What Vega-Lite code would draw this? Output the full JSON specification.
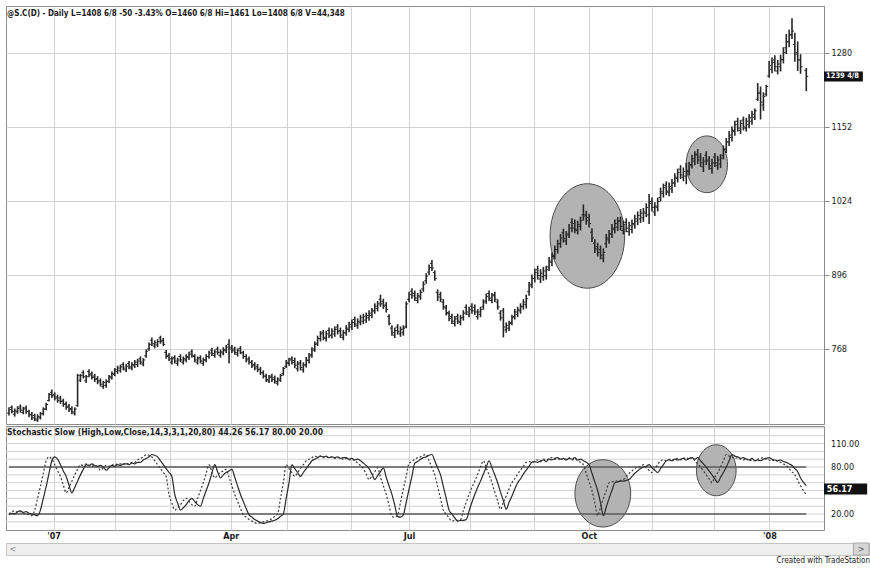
{
  "$schema": "https://vega.github.io/schema/vega-lite/v6.json",
  "background": "white",
  "padding": {"left": 5, "top": 5, "right": 0, "bottom": 0},
  "title": {"text": "Created with TradeStation", "orient": "bottom", "anchor": "end", "fontSize": 8, "fontWeight": "normal", "color": "#222", "offset": 1},
  "datasets": {
    "bars": [
      {"i":0,"o":657,"h":667,"l":653,"c":663,"d":19,"k":20},
      {"i":1,"o":667,"h":670,"l":657,"c":660,"d":21,"k":23},
      {"i":2,"o":655,"h":665,"l":651,"c":661,"d":20,"k":24},
      {"i":3,"o":659,"h":669,"l":656,"c":665,"d":23,"k":22},
      {"i":4,"o":668,"h":672,"l":658,"c":662,"d":24,"k":23},
      {"i":5,"o":658,"h":668,"l":655,"c":664,"d":22,"k":21},
      {"i":6,"o":666,"h":670,"l":656,"c":660,"d":23,"k":20},
      {"i":7,"o":660,"h":663,"l":650,"c":654,"d":21,"k":19},
      {"i":8,"o":655,"h":659,"l":645,"c":649,"d":20,"k":18},
      {"i":9,"o":653,"h":656,"l":643,"c":647,"d":19,"k":25},
      {"i":10,"o":645,"h":655,"l":642,"c":651,"d":18,"k":40},
      {"i":11,"o":649,"h":659,"l":646,"c":656,"d":25,"k":55},
      {"i":12,"o":656,"h":667,"l":653,"c":664,"d":40,"k":72},
      {"i":13,"o":664,"h":675,"l":662,"c":672,"d":55,"k":88},
      {"i":14,"o":679,"h":692,"l":677,"c":689,"d":72,"k":93},
      {"i":15,"o":693,"h":698,"l":683,"c":687,"d":88,"k":90},
      {"i":16,"o":689,"h":693,"l":679,"c":683,"d":93,"k":83},
      {"i":17,"o":685,"h":689,"l":675,"c":679,"d":90,"k":75},
      {"i":18,"o":683,"h":687,"l":673,"c":677,"d":83,"k":68},
      {"i":19,"o":678,"h":682,"l":668,"c":672,"d":75,"k":57},
      {"i":20,"o":673,"h":677,"l":663,"c":667,"d":68,"k":47},
      {"i":21,"o":669,"h":673,"l":659,"c":663,"d":57,"k":54},
      {"i":22,"o":665,"h":669,"l":655,"c":659,"d":47,"k":62},
      {"i":23,"o":657,"h":667,"l":653,"c":664,"d":54,"k":70},
      {"i":24,"o":670,"h":725,"l":668,"c":722,"d":62,"k":77},
      {"i":25,"o":714,"h":725,"l":711,"c":722,"d":70,"k":83},
      {"i":26,"o":727,"h":731,"l":717,"c":720,"d":77,"k":82},
      {"i":27,"o":713,"h":723,"l":709,"c":720,"d":83,"k":84},
      {"i":28,"o":729,"h":733,"l":719,"c":723,"d":82,"k":82},
      {"i":29,"o":725,"h":729,"l":715,"c":719,"d":84,"k":81},
      {"i":30,"o":721,"h":725,"l":711,"c":715,"d":82,"k":82},
      {"i":31,"o":717,"h":721,"l":707,"c":711,"d":81,"k":80},
      {"i":32,"o":713,"h":717,"l":703,"c":707,"d":82,"k":76},
      {"i":33,"o":703,"h":713,"l":699,"c":710,"d":80,"k":79},
      {"i":34,"o":705,"h":715,"l":701,"c":712,"d":76,"k":82},
      {"i":35,"o":712,"h":723,"l":709,"c":720,"d":79,"k":81},
      {"i":36,"o":718,"h":729,"l":715,"c":726,"d":82,"k":83},
      {"i":37,"o":724,"h":735,"l":721,"c":732,"d":81,"k":82},
      {"i":38,"o":729,"h":739,"l":725,"c":735,"d":83,"k":84},
      {"i":39,"o":731,"h":741,"l":727,"c":737,"d":82,"k":84},
      {"i":40,"o":741,"h":745,"l":731,"c":735,"d":84,"k":83},
      {"i":41,"o":732,"h":742,"l":728,"c":738,"d":84,"k":85},
      {"i":42,"o":743,"h":747,"l":733,"c":737,"d":83,"k":84},
      {"i":43,"o":735,"h":745,"l":731,"c":741,"d":85,"k":86},
      {"i":44,"o":739,"h":749,"l":735,"c":745,"d":84,"k":86},
      {"i":45,"o":741,"h":751,"l":737,"c":747,"d":86,"k":89},
      {"i":46,"o":751,"h":755,"l":741,"c":745,"d":86,"k":91},
      {"i":47,"o":742,"h":752,"l":738,"c":749,"d":89,"k":93},
      {"i":48,"o":756,"h":767,"l":753,"c":764,"d":91,"k":96},
      {"i":49,"o":768,"h":779,"l":765,"c":776,"d":93,"k":95},
      {"i":50,"o":783,"h":788,"l":773,"c":777,"d":96,"k":93},
      {"i":51,"o":773,"h":783,"l":769,"c":779,"d":95,"k":88},
      {"i":52,"o":775,"h":785,"l":771,"c":781,"d":93,"k":83},
      {"i":53,"o":787,"h":791,"l":777,"c":781,"d":88,"k":78},
      {"i":54,"o":783,"h":787,"l":773,"c":776,"d":83,"k":73},
      {"i":55,"o":762,"h":766,"l":751,"c":755,"d":78,"k":68},
      {"i":56,"o":757,"h":761,"l":747,"c":751,"d":73,"k":45},
      {"i":57,"o":745,"h":755,"l":741,"c":751,"d":68,"k":34},
      {"i":58,"o":753,"h":757,"l":743,"c":747,"d":45,"k":25},
      {"i":59,"o":743,"h":753,"l":739,"c":749,"d":34,"k":28},
      {"i":60,"o":755,"h":759,"l":745,"c":749,"d":25,"k":32},
      {"i":61,"o":745,"h":755,"l":741,"c":751,"d":28,"k":37},
      {"i":62,"o":749,"h":759,"l":745,"c":755,"d":32,"k":40},
      {"i":63,"o":753,"h":763,"l":749,"c":759,"d":37,"k":36},
      {"i":64,"o":763,"h":767,"l":753,"c":757,"d":40,"k":32},
      {"i":65,"o":755,"h":759,"l":745,"c":749,"d":36,"k":30},
      {"i":66,"o":745,"h":755,"l":741,"c":751,"d":32,"k":40},
      {"i":67,"o":753,"h":757,"l":743,"c":747,"d":30,"k":50},
      {"i":68,"o":743,"h":753,"l":739,"c":749,"d":40,"k":60},
      {"i":69,"o":749,"h":759,"l":745,"c":755,"d":50,"k":72},
      {"i":70,"o":755,"h":765,"l":751,"c":761,"d":60,"k":83},
      {"i":71,"o":766,"h":770,"l":756,"c":760,"d":72,"k":74},
      {"i":72,"o":757,"h":767,"l":753,"c":763,"d":83,"k":66},
      {"i":73,"o":768,"h":772,"l":758,"c":762,"d":74,"k":70},
      {"i":74,"o":757,"h":767,"l":753,"c":763,"d":66,"k":73},
      {"i":75,"o":761,"h":771,"l":757,"c":767,"d":70,"k":75},
      {"i":76,"o":765,"h":775,"l":761,"c":771,"d":73,"k":77},
      {"i":77,"o":776,"h":785,"l":743,"c":768,"d":75,"k":67},
      {"i":78,"o":771,"h":775,"l":761,"c":765,"d":77,"k":56},
      {"i":79,"o":768,"h":772,"l":758,"c":762,"d":67,"k":45},
      {"i":80,"o":759,"h":769,"l":755,"c":765,"d":56,"k":36},
      {"i":81,"o":769,"h":773,"l":759,"c":762,"d":45,"k":27},
      {"i":82,"o":761,"h":765,"l":751,"c":755,"d":36,"k":19},
      {"i":83,"o":755,"h":759,"l":745,"c":749,"d":27,"k":16},
      {"i":84,"o":751,"h":755,"l":741,"c":745,"d":19,"k":13},
      {"i":85,"o":745,"h":749,"l":735,"c":739,"d":16,"k":11},
      {"i":86,"o":741,"h":745,"l":731,"c":735,"d":13,"k":9},
      {"i":87,"o":738,"h":742,"l":728,"c":732,"d":11,"k":8},
      {"i":88,"o":733,"h":737,"l":723,"c":727,"d":9,"k":9},
      {"i":89,"o":727,"h":731,"l":717,"c":721,"d":8,"k":10},
      {"i":90,"o":721,"h":725,"l":711,"c":715,"d":9,"k":11},
      {"i":91,"o":713,"h":723,"l":709,"c":719,"d":10,"k":12},
      {"i":92,"o":721,"h":725,"l":711,"c":715,"d":11,"k":14},
      {"i":93,"o":718,"h":722,"l":708,"c":712,"d":12,"k":17},
      {"i":94,"o":709,"h":719,"l":705,"c":716,"d":14,"k":20},
      {"i":95,"o":714,"h":725,"l":711,"c":722,"d":17,"k":40},
      {"i":96,"o":725,"h":737,"l":722,"c":734,"d":20,"k":60},
      {"i":97,"o":738,"h":749,"l":735,"c":745,"d":40,"k":83},
      {"i":98,"o":743,"h":753,"l":739,"c":749,"d":60,"k":78},
      {"i":99,"o":751,"h":755,"l":741,"c":745,"d":83,"k":73},
      {"i":100,"o":748,"h":753,"l":735,"c":740,"d":78,"k":68},
      {"i":101,"o":734,"h":747,"l":729,"c":742,"d":73,"k":73},
      {"i":102,"o":744,"h":749,"l":731,"c":736,"d":68,"k":78},
      {"i":103,"o":732,"h":745,"l":727,"c":740,"d":73,"k":83},
      {"i":104,"o":741,"h":754,"l":736,"c":749,"d":78,"k":88},
      {"i":105,"o":748,"h":761,"l":743,"c":756,"d":83,"k":90},
      {"i":106,"o":758,"h":771,"l":753,"c":766,"d":88,"k":92},
      {"i":107,"o":768,"h":781,"l":763,"c":776,"d":90,"k":94},
      {"i":108,"o":778,"h":791,"l":773,"c":786,"d":92,"k":93},
      {"i":109,"o":786,"h":799,"l":781,"c":794,"d":94,"k":94},
      {"i":110,"o":796,"h":801,"l":783,"c":788,"d":93,"k":92},
      {"i":111,"o":786,"h":799,"l":781,"c":794,"d":94,"k":93},
      {"i":112,"o":800,"h":805,"l":787,"c":792,"d":92,"k":92},
      {"i":113,"o":791,"h":804,"l":786,"c":799,"d":93,"k":93},
      {"i":114,"o":794,"h":807,"l":789,"c":802,"d":92,"k":91},
      {"i":115,"o":806,"h":811,"l":793,"c":798,"d":93,"k":92},
      {"i":116,"o":800,"h":805,"l":787,"c":792,"d":91,"k":92},
      {"i":117,"o":788,"h":801,"l":783,"c":796,"d":92,"k":90},
      {"i":118,"o":796,"h":809,"l":791,"c":804,"d":92,"k":91},
      {"i":119,"o":802,"h":815,"l":797,"c":810,"d":90,"k":89},
      {"i":120,"o":806,"h":819,"l":801,"c":814,"d":91,"k":90},
      {"i":121,"o":819,"h":824,"l":806,"c":811,"d":89,"k":88},
      {"i":122,"o":808,"h":821,"l":803,"c":816,"d":90,"k":85},
      {"i":123,"o":814,"h":827,"l":809,"c":822,"d":88,"k":82},
      {"i":124,"o":816,"h":829,"l":811,"c":824,"d":85,"k":78},
      {"i":125,"o":818,"h":831,"l":813,"c":826,"d":82,"k":71},
      {"i":126,"o":822,"h":835,"l":817,"c":830,"d":78,"k":64},
      {"i":127,"o":826,"h":839,"l":821,"c":834,"d":71,"k":69},
      {"i":128,"o":834,"h":847,"l":829,"c":842,"d":64,"k":74},
      {"i":129,"o":838,"h":851,"l":833,"c":846,"d":69,"k":79},
      {"i":130,"o":854,"h":862,"l":841,"c":846,"d":74,"k":67},
      {"i":131,"o":850,"h":855,"l":837,"c":842,"d":79,"k":56},
      {"i":132,"o":844,"h":849,"l":831,"c":836,"d":67,"k":45},
      {"i":133,"o":824,"h":828,"l":809,"c":812,"d":56,"k":31},
      {"i":134,"o":804,"h":809,"l":791,"c":796,"d":45,"k":17},
      {"i":135,"o":792,"h":805,"l":787,"c":800,"d":31,"k":16},
      {"i":136,"o":806,"h":811,"l":793,"c":798,"d":17,"k":19},
      {"i":137,"o":794,"h":807,"l":789,"c":802,"d":16,"k":35},
      {"i":138,"o":796,"h":809,"l":791,"c":804,"d":19,"k":52},
      {"i":139,"o":806,"h":850,"l":804,"c":846,"d":35,"k":68},
      {"i":140,"o":854,"h":867,"l":849,"c":862,"d":52,"k":85},
      {"i":141,"o":868,"h":873,"l":855,"c":860,"d":68,"k":87},
      {"i":142,"o":864,"h":869,"l":851,"c":856,"d":85,"k":90},
      {"i":143,"o":852,"h":865,"l":847,"c":860,"d":87,"k":92},
      {"i":144,"o":858,"h":871,"l":853,"c":866,"d":90,"k":93},
      {"i":145,"o":872,"h":885,"l":867,"c":880,"d":92,"k":95},
      {"i":146,"o":886,"h":899,"l":881,"c":894,"d":93,"k":96},
      {"i":147,"o":901,"h":914,"l":896,"c":909,"d":95,"k":88},
      {"i":148,"o":916,"h":922,"l":903,"c":908,"d":96,"k":79},
      {"i":149,"o":900,"h":904,"l":886,"c":890,"d":88,"k":70},
      {"i":150,"o":866,"h":871,"l":851,"c":858,"d":79,"k":55},
      {"i":151,"o":862,"h":867,"l":849,"c":854,"d":70,"k":40},
      {"i":152,"o":849,"h":854,"l":836,"c":841,"d":55,"k":25},
      {"i":153,"o":839,"h":844,"l":826,"c":831,"d":40,"k":20},
      {"i":154,"o":829,"h":834,"l":816,"c":821,"d":25,"k":15},
      {"i":155,"o":824,"h":829,"l":811,"c":816,"d":20,"k":11},
      {"i":156,"o":812,"h":825,"l":807,"c":820,"d":15,"k":12},
      {"i":157,"o":824,"h":829,"l":811,"c":816,"d":11,"k":12},
      {"i":158,"o":814,"h":827,"l":809,"c":822,"d":12,"k":13},
      {"i":159,"o":822,"h":835,"l":817,"c":830,"d":12,"k":24},
      {"i":160,"o":840,"h":845,"l":827,"c":832,"d":13,"k":35},
      {"i":161,"o":828,"h":841,"l":823,"c":836,"d":24,"k":45},
      {"i":162,"o":842,"h":847,"l":829,"c":834,"d":35,"k":54},
      {"i":163,"o":840,"h":845,"l":827,"c":832,"d":45,"k":62},
      {"i":164,"o":824,"h":837,"l":819,"c":832,"d":54,"k":71},
      {"i":165,"o":828,"h":841,"l":823,"c":836,"d":62,"k":80},
      {"i":166,"o":841,"h":854,"l":836,"c":849,"d":71,"k":88},
      {"i":167,"o":851,"h":864,"l":846,"c":859,"d":80,"k":79},
      {"i":168,"o":864,"h":869,"l":851,"c":856,"d":88,"k":70},
      {"i":169,"o":852,"h":865,"l":847,"c":860,"d":79,"k":60},
      {"i":170,"o":862,"h":867,"l":849,"c":854,"d":70,"k":48},
      {"i":171,"o":849,"h":854,"l":836,"c":841,"d":60,"k":37},
      {"i":172,"o":830,"h":835,"l":817,"c":822,"d":48,"k":26},
      {"i":173,"o":834,"h":839,"l":788,"c":806,"d":37,"k":35},
      {"i":174,"o":801,"h":814,"l":796,"c":809,"d":26,"k":43},
      {"i":175,"o":804,"h":817,"l":799,"c":812,"d":35,"k":52},
      {"i":176,"o":814,"h":827,"l":809,"c":822,"d":43,"k":60},
      {"i":177,"o":824,"h":837,"l":819,"c":832,"d":52,"k":65},
      {"i":178,"o":828,"h":841,"l":823,"c":836,"d":60,"k":71},
      {"i":179,"o":834,"h":847,"l":829,"c":842,"d":65,"k":76},
      {"i":180,"o":841,"h":854,"l":836,"c":849,"d":71,"k":81},
      {"i":181,"o":845,"h":862,"l":838,"c":855,"d":76,"k":86},
      {"i":182,"o":867,"h":884,"l":860,"c":877,"d":81,"k":87},
      {"i":183,"o":880,"h":897,"l":873,"c":890,"d":86,"k":86},
      {"i":184,"o":890,"h":907,"l":883,"c":900,"d":87,"k":88},
      {"i":185,"o":905,"h":912,"l":888,"c":895,"d":86,"k":89},
      {"i":186,"o":889,"h":906,"l":882,"c":899,"d":88,"k":87},
      {"i":187,"o":893,"h":910,"l":886,"c":903,"d":89,"k":90},
      {"i":188,"o":895,"h":912,"l":888,"c":905,"d":87,"k":89},
      {"i":189,"o":910,"h":927,"l":903,"c":920,"d":90,"k":91},
      {"i":190,"o":918,"h":935,"l":911,"c":928,"d":89,"k":92},
      {"i":191,"o":930,"h":947,"l":923,"c":940,"d":91,"k":90},
      {"i":192,"o":940,"h":957,"l":933,"c":950,"d":92,"k":91},
      {"i":193,"o":950,"h":967,"l":943,"c":960,"d":90,"k":89},
      {"i":194,"o":969,"h":976,"l":952,"c":959,"d":91,"k":91},
      {"i":195,"o":955,"h":972,"l":948,"c":965,"d":89,"k":90},
      {"i":196,"o":967,"h":984,"l":960,"c":977,"d":91,"k":92},
      {"i":197,"o":987,"h":994,"l":970,"c":977,"d":90,"k":89},
      {"i":198,"o":985,"h":992,"l":968,"c":975,"d":92,"k":90},
      {"i":199,"o":973,"h":990,"l":966,"c":983,"d":89,"k":88},
      {"i":200,"o":980,"h":997,"l":973,"c":990,"d":90,"k":86},
      {"i":201,"o":1000,"h":1018,"l":990,"c":998,"d":88,"k":83},
      {"i":202,"o":1000,"h":1007,"l":983,"c":990,"d":86,"k":72},
      {"i":203,"o":995,"h":1002,"l":978,"c":985,"d":83,"k":61},
      {"i":204,"o":970,"h":977,"l":953,"c":960,"d":72,"k":50},
      {"i":205,"o":951,"h":958,"l":934,"c":941,"d":61,"k":34},
      {"i":206,"o":945,"h":952,"l":928,"c":935,"d":50,"k":18},
      {"i":207,"o":940,"h":947,"l":923,"c":930,"d":34,"k":29},
      {"i":208,"o":925,"h":942,"l":918,"c":935,"d":18,"k":40},
      {"i":209,"o":950,"h":967,"l":943,"c":960,"d":29,"k":50},
      {"i":210,"o":957,"h":974,"l":950,"c":967,"d":40,"k":60},
      {"i":211,"o":967,"h":984,"l":960,"c":977,"d":50,"k":61},
      {"i":212,"o":975,"h":992,"l":968,"c":985,"d":60,"k":62},
      {"i":213,"o":979,"h":996,"l":972,"c":989,"d":61,"k":62},
      {"i":214,"o":990,"h":997,"l":973,"c":980,"d":62,"k":63},
      {"i":215,"o":973,"h":990,"l":966,"c":983,"d":62,"k":64},
      {"i":216,"o":987,"h":994,"l":970,"c":977,"d":63,"k":68},
      {"i":217,"o":971,"h":988,"l":964,"c":981,"d":64,"k":72},
      {"i":218,"o":975,"h":992,"l":968,"c":985,"d":68,"k":75},
      {"i":219,"o":983,"h":1000,"l":976,"c":993,"d":72,"k":78},
      {"i":220,"o":989,"h":1006,"l":982,"c":999,"d":75,"k":80},
      {"i":221,"o":993,"h":1010,"l":986,"c":1003,"d":78,"k":81},
      {"i":222,"o":995,"h":1012,"l":988,"c":1005,"d":80,"k":83},
      {"i":223,"o":1003,"h":1020,"l":996,"c":1013,"d":81,"k":79},
      {"i":224,"o":1000,"h":1036,"l":984,"c":1020,"d":83,"k":76},
      {"i":225,"o":1023,"h":1030,"l":1006,"c":1013,"d":79,"k":73},
      {"i":226,"o":1005,"h":1022,"l":998,"c":1015,"d":76,"k":78},
      {"i":227,"o":1013,"h":1030,"l":1006,"c":1023,"d":73,"k":83},
      {"i":228,"o":1030,"h":1047,"l":1023,"c":1040,"d":78,"k":88},
      {"i":229,"o":1037,"h":1054,"l":1030,"c":1047,"d":83,"k":89},
      {"i":230,"o":1051,"h":1058,"l":1034,"c":1041,"d":88,"k":88},
      {"i":231,"o":1039,"h":1056,"l":1032,"c":1049,"d":89,"k":90},
      {"i":232,"o":1045,"h":1062,"l":1038,"c":1055,"d":88,"k":89},
      {"i":233,"o":1055,"h":1072,"l":1048,"c":1065,"d":90,"k":90},
      {"i":234,"o":1063,"h":1080,"l":1056,"c":1073,"d":89,"k":91},
      {"i":235,"o":1079,"h":1086,"l":1062,"c":1069,"d":90,"k":89},
      {"i":236,"o":1065,"h":1082,"l":1058,"c":1075,"d":91,"k":91},
      {"i":237,"o":1067,"h":1090,"l":1053,"c":1077,"d":89,"k":92},
      {"i":238,"o":1075,"h":1092,"l":1068,"c":1085,"d":91,"k":90},
      {"i":239,"o":1087,"h":1104,"l":1080,"c":1097,"d":92,"k":92},
      {"i":240,"o":1093,"h":1110,"l":1086,"c":1103,"d":90,"k":88},
      {"i":241,"o":1105,"h":1114,"l":1088,"c":1095,"d":92,"k":84},
      {"i":242,"o":1100,"h":1107,"l":1083,"c":1090,"d":88,"k":80},
      {"i":243,"o":1083,"h":1100,"l":1074,"c":1093,"d":84,"k":75},
      {"i":244,"o":1103,"h":1110,"l":1086,"c":1093,"d":80,"k":70},
      {"i":245,"o":1095,"h":1102,"l":1078,"c":1085,"d":75,"k":65},
      {"i":246,"o":1080,"h":1097,"l":1071,"c":1090,"d":70,"k":60},
      {"i":247,"o":1100,"h":1107,"l":1083,"c":1090,"d":65,"k":67},
      {"i":248,"o":1085,"h":1102,"l":1078,"c":1095,"d":60,"k":73},
      {"i":249,"o":1088,"h":1105,"l":1081,"c":1098,"d":67,"k":80},
      {"i":250,"o":1103,"h":1120,"l":1096,"c":1113,"d":73,"k":88},
      {"i":251,"o":1114,"h":1133,"l":1107,"c":1126,"d":80,"k":96},
      {"i":252,"o":1126,"h":1145,"l":1119,"c":1138,"d":88,"k":94},
      {"i":253,"o":1134,"h":1153,"l":1127,"c":1146,"d":96,"k":93},
      {"i":254,"o":1144,"h":1163,"l":1137,"c":1156,"d":94,"k":91},
      {"i":255,"o":1162,"h":1168,"l":1144,"c":1150,"d":93,"k":92},
      {"i":256,"o":1146,"h":1164,"l":1140,"c":1158,"d":91,"k":90},
      {"i":257,"o":1164,"h":1170,"l":1146,"c":1152,"d":92,"k":89},
      {"i":258,"o":1150,"h":1168,"l":1144,"c":1162,"d":90,"k":91},
      {"i":259,"o":1156,"h":1174,"l":1150,"c":1168,"d":89,"k":88},
      {"i":260,"o":1162,"h":1180,"l":1156,"c":1174,"d":91,"k":89},
      {"i":261,"o":1169,"h":1184,"l":1164,"c":1180,"d":88,"k":88},
      {"i":262,"o":1200,"h":1228,"l":1197,"c":1210,"d":89,"k":90},
      {"i":263,"o":1212,"h":1222,"l":1165,"c":1195,"d":88,"k":91},
      {"i":264,"o":1190,"h":1212,"l":1180,"c":1205,"d":90,"k":92},
      {"i":265,"o":1209,"h":1225,"l":1205,"c":1222,"d":91,"k":90},
      {"i":266,"o":1240,"h":1266,"l":1237,"c":1258,"d":92,"k":89},
      {"i":267,"o":1252,"h":1272,"l":1245,"c":1264,"d":90,"k":88},
      {"i":268,"o":1268,"h":1276,"l":1248,"c":1256,"d":89,"k":89},
      {"i":269,"o":1249,"h":1268,"l":1243,"c":1261,"d":88,"k":87},
      {"i":270,"o":1256,"h":1277,"l":1248,"c":1268,"d":89,"k":86},
      {"i":271,"o":1269,"h":1290,"l":1262,"c":1281,"d":87,"k":84},
      {"i":272,"o":1289,"h":1313,"l":1278,"c":1300,"d":86,"k":82},
      {"i":273,"o":1299,"h":1320,"l":1290,"c":1311,"d":84,"k":78},
      {"i":274,"o":1312,"h":1340,"l":1304,"c":1318,"d":82,"k":74},
      {"i":275,"o":1295,"h":1315,"l":1265,"c":1278,"d":78,"k":70},
      {"i":276,"o":1281,"h":1300,"l":1249,"c":1268,"d":74,"k":63},
      {"i":277,"o":1268,"h":1278,"l":1244,"c":1256,"d":66,"k":56},
      {"i":279,"o":1250,"h":1254,"l":1214,"c":1239.5,"d":56.17,"k":44.26}
    ],
    "stochGrid": [
      {"g":10},{"g":20},{"g":30},{"g":40},{"g":50},{"g":60},{"g":70},{"g":80},{"g":90},{"g":100},{"g":110},{"g":120},{"g":130}
    ],
    "stochLabels": [
      {"v":110,"t":"110.00"},{"v":80,"t":"80.00"},{"v":20,"t":"20.00"}
    ]
  },
  "spacing": 1,
  "vconcat": [
    {
      "spacing": 0,
      "vconcat": [
        {
          "width": 818,
          "height": 418,
          "layer": [
            {
              "data": {"values": [{}]},
              "mark": {"type": "point", "shape": "M-0.714,0A0.714,1 0 1,0 0.714,0A0.714,1 0 1,0 -0.714,0Z", "size": 10920, "filled": true, "fill": "#b3b3b3", "fillOpacity": 1, "stroke": "#4a4a4a", "strokeWidth": 1, "opacity": 1},
              "encoding": {
                "x": {"datum": 202.4, "type": "quantitative", "scale": {"domain": [-1.05, 285.2], "nice": false, "zero": false}, "axis": {"orient": "bottom", "values": [15.6, 37.2, 56.4, 77.6, 97.2, 119.6, 140, 161.3, 183.7, 202.9, 225, 246.6, 266.1], "labels": false, "ticks": false, "domain": false, "grid": true, "title": null}},
                "y": {"datum": 963.5, "type": "quantitative", "scale": {"domain": [638.2, 1361.3], "nice": false, "zero": false}, "axis": {"orient": "right", "values": [768, 896, 1024, 1152, 1280], "grid": true, "ticks": true, "tickSize": 5, "labelPadding": 2, "domain": true, "title": null, "format": "d"}}
              }
            },
            {
              "data": {"values": [{}]},
              "mark": {"type": "point", "shape": "M-0.728,0A0.728,1 0 1,0 0.728,0A0.728,1 0 1,0 -0.728,0Z", "size": 3215, "filled": true, "fill": "#b3b3b3", "fillOpacity": 1, "stroke": "#4a4a4a", "strokeWidth": 1, "opacity": 1},
              "encoding": {
                "x": {"datum": 244.2, "type": "quantitative", "scale": {"domain": [-1.05, 285.2], "nice": false, "zero": false}},
                "y": {"datum": 1087.5, "type": "quantitative", "scale": {"domain": [638.2, 1361.3], "nice": false, "zero": false}}
              }
            },
            {
              "data": {"name": "bars"},
              "mark": {"type": "rule", "color": "#262626", "strokeWidth": 1.6, "opacity": 1},
              "encoding": {
                "x": {"field": "i", "type": "quantitative", "title": null, "scale": {"domain": [-1.05, 285.2], "nice": false, "zero": false}},
                "y": {"field": "l", "type": "quantitative", "title": null, "scale": {"domain": [638.2, 1361.3], "nice": false, "zero": false}},
                "y2": {"field": "h"}
              }
            },
            {
              "data": {"name": "bars"},
              "mark": {"type": "tick", "orient": "horizontal", "size": 2, "thickness": 1, "xOffset": -1, "color": "#262626", "opacity": 1},
              "encoding": {
                "x": {"field": "i", "type": "quantitative", "title": null, "scale": {"domain": [-1.05, 285.2], "nice": false, "zero": false}},
                "y": {"field": "o", "type": "quantitative", "title": null, "scale": {"domain": [638.2, 1361.3], "nice": false, "zero": false}}
              }
            },
            {
              "data": {"name": "bars"},
              "mark": {"type": "tick", "orient": "horizontal", "size": 2, "thickness": 1, "xOffset": 1, "color": "#262626", "opacity": 1},
              "encoding": {
                "x": {"field": "i", "type": "quantitative", "title": null, "scale": {"domain": [-1.05, 285.2], "nice": false, "zero": false}},
                "y": {"field": "c", "type": "quantitative", "title": null, "scale": {"domain": [638.2, 1361.3], "nice": false, "zero": false}}
              }
            },
            {
              "data": {"values": [{}]},
              "mark": {"type": "text", "text": "@S.C(D) - Daily L=1408 6/8 -50 -3.43% O=1460 6/8 Hi=1461 Lo=1408 6/8 V=44,348", "align": "left", "baseline": "middle", "fontSize": 8, "fontWeight": "bold", "color": "#1a1a1a"},
              "encoding": {
                "x": {"datum": -0.7, "type": "quantitative", "scale": {"domain": [-1.05, 285.2], "nice": false, "zero": false}},
                "y": {"datum": 1347.5, "type": "quantitative", "scale": {"domain": [638.2, 1361.3], "nice": false, "zero": false}}
              }
            },
            {
              "data": {"values": [{}]},
              "mark": {"type": "rect", "fill": "#111111"},
              "encoding": {
                "x": {"datum": 285.2, "type": "quantitative", "scale": {"domain": [-1.05, 285.2], "nice": false, "zero": false}},
                "x2": {"datum": 298.8},
                "y": {"datum": 1248.2, "type": "quantitative", "scale": {"domain": [638.2, 1361.3], "nice": false, "zero": false}},
                "y2": {"datum": 1230.8}
              }
            },
            {
              "data": {"values": [{}]},
              "mark": {"type": "text", "text": "1239 4/8", "align": "left", "baseline": "middle", "fontSize": 7.5, "fontWeight": "bold", "color": "white"},
              "encoding": {
                "x": {"datum": 285.9, "type": "quantitative", "scale": {"domain": [-1.05, 285.2], "nice": false, "zero": false}},
                "y": {"datum": 1239.5, "type": "quantitative", "scale": {"domain": [638.2, 1361.3], "nice": false, "zero": false}}
              }
            }
          ]
        },
        {
          "width": 818,
          "height": 104,
          "layer": [
            {
              "data": {"name": "stochGrid"},
              "mark": {"type": "rule", "color": "#d2d2d2", "strokeWidth": 1},
              "encoding": {
                "y": {"field": "g", "type": "quantitative", "title": null, "scale": {"domain": [-0.4, 132.4], "nice": false, "zero": false}, "axis": null}
              }
            },
            {
              "data": {"values": [{}]},
              "mark": {"type": "point", "shape": "M-0.828,0A0.828,1 0 1,0 0.828,0A0.828,1 0 1,0 -0.828,0Z", "size": 4529, "filled": true, "fill": "#b3b3b3", "fillOpacity": 1, "stroke": "#4a4a4a", "strokeWidth": 1, "opacity": 1},
              "encoding": {
                "x": {"datum": 207.8, "type": "quantitative", "scale": {"domain": [-1.05, 285.2], "nice": false, "zero": false}, "axis": {"orient": "bottom", "values": [15.6, 37.2, 56.4, 77.6, 97.2, 119.6, 140, 161.3, 183.7, 202.9, 225, 246.6, 266.1], "grid": true, "ticks": false, "domain": false, "labelPadding": 1, "labelOverlap": false, "labelFontWeight": "bold", "title": null, "labelExpr": "datum.value == 15.6 ? \"'07\" : datum.value == 77.6 ? 'Apr' : datum.value == 140 ? 'Jul' : datum.value == 202.9 ? 'Oct' : datum.value == 266.1 ? \"'08\" : ''"}},
                "y": {"datum": 46.4, "type": "quantitative", "scale": {"domain": [-0.4, 132.4], "nice": false, "zero": false}, "axis": null}
              }
            },
            {
              "data": {"values": [{}]},
              "mark": {"type": "point", "shape": "M-0.778,0A0.778,1 0 1,0 0.778,0A0.778,1 0 1,0 -0.778,0Z", "size": 2601, "filled": true, "fill": "#b3b3b3", "fillOpacity": 1, "stroke": "#4a4a4a", "strokeWidth": 1, "opacity": 1},
              "encoding": {
                "x": {"datum": 247.5, "type": "quantitative", "scale": {"domain": [-1.05, 285.2], "nice": false, "zero": false}},
                "y": {"datum": 75.9, "type": "quantitative", "scale": {"domain": [-0.4, 132.4], "nice": false, "zero": false}, "axis": null}
              }
            },
            {
              "data": {"values": [{}]},
              "mark": {"type": "rule", "color": "#5a5a5a", "strokeWidth": 1.5},
              "encoding": {
                "x": {"datum": 0, "type": "quantitative", "scale": {"domain": [-1.05, 285.2], "nice": false, "zero": false}},
                "x2": {"datum": 279},
                "y": {"datum": 80, "type": "quantitative", "scale": {"domain": [-0.4, 132.4], "nice": false, "zero": false}, "axis": null}
              }
            },
            {
              "data": {"values": [{}]},
              "mark": {"type": "rule", "color": "#5a5a5a", "strokeWidth": 1.5},
              "encoding": {
                "x": {"datum": 0, "type": "quantitative", "scale": {"domain": [-1.05, 285.2], "nice": false, "zero": false}},
                "x2": {"datum": 279},
                "y": {"datum": 20, "type": "quantitative", "scale": {"domain": [-0.4, 132.4], "nice": false, "zero": false}, "axis": null}
              }
            },
            {
              "data": {"name": "bars"},
              "mark": {"type": "line", "color": "#2a2a2a", "strokeWidth": 1.2, "interpolate": "monotone"},
              "encoding": {
                "x": {"field": "i", "type": "quantitative", "title": null, "scale": {"domain": [-1.05, 285.2], "nice": false, "zero": false}},
                "y": {"field": "d", "type": "quantitative", "title": null, "scale": {"domain": [-0.4, 132.4], "nice": false, "zero": false}, "axis": null}
              }
            },
            {
              "data": {"name": "bars"},
              "mark": {"type": "line", "color": "#3a3a3a", "strokeWidth": 1.2, "strokeDash": [2, 2], "interpolate": "monotone"},
              "encoding": {
                "x": {"field": "i", "type": "quantitative", "title": null, "scale": {"domain": [-1.05, 285.2], "nice": false, "zero": false}},
                "y": {"field": "k", "type": "quantitative", "title": null, "scale": {"domain": [-0.4, 132.4], "nice": false, "zero": false}, "axis": null}
              }
            },
            {
              "data": {"values": [{}]},
              "mark": {"type": "text", "text": "Stochastic Slow (High,Low,Close,14,3,3,1,20,80)  44.26  56.17  80.00  20.00", "align": "left", "baseline": "middle", "fontSize": 8.5, "fontWeight": "bold", "color": "#1a1a1a"},
              "encoding": {
                "x": {"datum": -0.7, "type": "quantitative", "scale": {"domain": [-1.05, 285.2], "nice": false, "zero": false}},
                "y": {"datum": 124.7, "type": "quantitative", "scale": {"domain": [-0.4, 132.4], "nice": false, "zero": false}, "axis": null}
              }
            },
            {
              "data": {"name": "stochLabels"},
              "mark": {"type": "text", "align": "left", "baseline": "middle", "fontSize": 9, "color": "#1a1a1a", "dx": 7},
              "encoding": {
                "x": {"datum": 285.2, "type": "quantitative", "scale": {"domain": [-1.05, 285.2], "nice": false, "zero": false}},
                "y": {"field": "v", "type": "quantitative", "title": null, "scale": {"domain": [-0.4, 132.4], "nice": false, "zero": false}, "axis": null},
                "text": {"field": "t"}
              }
            },
            {
              "data": {"values": [{}]},
              "mark": {"type": "rect", "fill": "#111111"},
              "encoding": {
                "x": {"datum": 285.2, "type": "quantitative", "scale": {"domain": [-1.05, 285.2], "nice": false, "zero": false}},
                "x2": {"datum": 300.3},
                "y": {"datum": 58.9, "type": "quantitative", "scale": {"domain": [-0.4, 132.4], "nice": false, "zero": false}, "axis": null},
                "y2": {"datum": 44.9}
              }
            },
            {
              "data": {"values": [{}]},
              "mark": {"type": "text", "text": "56.17", "align": "left", "baseline": "middle", "fontSize": 9, "fontWeight": "bold", "color": "white"},
              "encoding": {
                "x": {"datum": 286.2, "type": "quantitative", "scale": {"domain": [-1.05, 285.2], "nice": false, "zero": false}},
                "y": {"datum": 51.9, "type": "quantitative", "scale": {"domain": [-0.4, 132.4], "nice": false, "zero": false}, "axis": null}
              }
            }
          ]
        }
      ]
    },
    {
      "width": 863,
      "height": 12,
      "view": {"fill": "#efefef", "stroke": "#c4c4c4"},
      "data": {"values": [{}]},
      "layer": [
        {
          "mark": {"type": "rect", "fill": "#d6d6d6", "stroke": "#a8a8a8"},
          "encoding": {
            "x": {"datum": 0.982, "type": "quantitative", "scale": {"domain": [0, 1]}, "axis": null},
            "x2": {"datum": 1},
            "y": {"datum": 0, "type": "quantitative", "scale": {"domain": [0, 1]}, "axis": null},
            "y2": {"datum": 1}
          }
        },
        {
          "mark": {"type": "text", "text": "<", "fontSize": 9, "color": "#888"},
          "encoding": {
            "x": {"datum": 0.008, "type": "quantitative", "scale": {"domain": [0, 1]}},
            "y": {"datum": 0.5, "type": "quantitative", "scale": {"domain": [0, 1]}}
          }
        },
        {
          "mark": {"type": "text", "text": ">", "fontSize": 9, "color": "#555"},
          "encoding": {
            "x": {"datum": 0.991, "type": "quantitative", "scale": {"domain": [0, 1]}},
            "y": {"datum": 0.5, "type": "quantitative", "scale": {"domain": [0, 1]}}
          }
        }
      ]
    }
  ],
  "config": {
    "font": "Liberation Sans Narrow, DejaVu Sans Condensed, Liberation Sans, sans-serif",
    "view": {"stroke": "#8c8c8c", "strokeWidth": 1},
    "axis": {"labelFont": "Liberation Sans Narrow, DejaVu Sans Condensed, Liberation Sans, sans-serif", "labelFontSize": 9, "labelColor": "#1a1a1a", "gridColor": "#d2d2d2", "gridWidth": 1, "domainColor": "#8c8c8c", "tickColor": "#8c8c8c"},
    "text": {"font": "Liberation Sans Narrow, DejaVu Sans Condensed, Liberation Sans, sans-serif"},
    "title": {"font": "Liberation Sans Narrow, DejaVu Sans Condensed, Liberation Sans, sans-serif"}
  }
}
